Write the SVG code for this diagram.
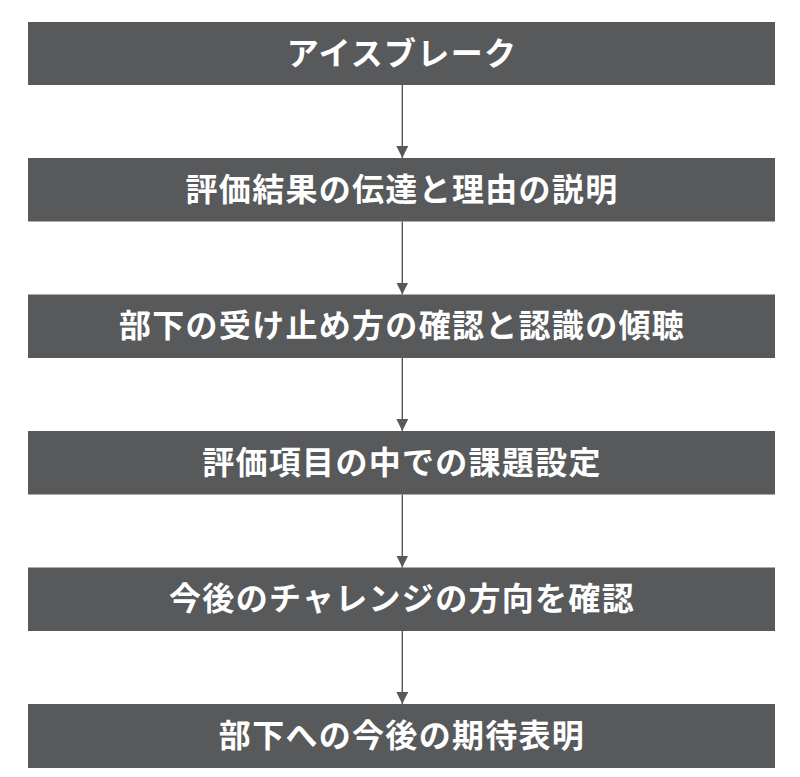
<svg xmlns="http://www.w3.org/2000/svg" width="800" height="777" viewBox="0 0 800 777">
<defs>
<style>
.box{fill:#58595b}
.lbl{fill:#ffffff;font-family:"Noto Sans CJK JP","Noto Sans CJK SC",sans-serif;font-weight:700;font-size:32px;letter-spacing:1.3px;text-anchor:middle}
.conn{stroke:#58595b;stroke-width:1.4;fill:none}
</style>
<marker id="ah" markerUnits="userSpaceOnUse" markerWidth="13" markerHeight="12" refX="12" refY="6" orient="auto">
<path d="M0,0 L12,6 L0,12 Z" fill="#58595b"/>
</marker>
</defs>
<rect width="800" height="777" fill="#ffffff"/>
<g id="connectors">
<line class="conn" x1="402.3" y1="85" x2="402.3" y2="158" marker-end="url(#ah)"/>
<line class="conn" x1="402.3" y1="221.5" x2="402.3" y2="294.5" marker-end="url(#ah)"/>
<line class="conn" x1="402.3" y1="358" x2="402.3" y2="431" marker-end="url(#ah)"/>
<line class="conn" x1="402.3" y1="494.5" x2="402.3" y2="567.5" marker-end="url(#ah)"/>
<line class="conn" x1="402.3" y1="631" x2="402.3" y2="704" marker-end="url(#ah)"/>
</g>
<g id="n1"><rect class="box" x="28" y="22" width="747" height="63"/><text class="lbl" x="402" y="64.5">アイスブレーク</text></g>
<g id="n2"><rect class="box" x="28" y="158" width="747" height="63.5"/><text class="lbl" x="402" y="200.5">評価結果の伝達と理由の説明</text></g>
<g id="n3"><rect class="box" x="28" y="294.5" width="747" height="63.5"/><text class="lbl" x="402" y="337">部下の受け止め方の確認と認識の傾聴</text></g>
<g id="n4"><rect class="box" x="28" y="431" width="747" height="63.5"/><text class="lbl" x="402" y="473.5">評価項目の中での課題設定</text></g>
<g id="n5"><rect class="box" x="28" y="567.5" width="747" height="63.5"/><text class="lbl" x="402" y="610">今後のチャレンジの方向を確認</text></g>
<g id="n6"><rect class="box" x="28" y="704" width="747" height="64"/><text class="lbl" x="402" y="746.5">部下への今後の期待表明</text></g>
</svg>
